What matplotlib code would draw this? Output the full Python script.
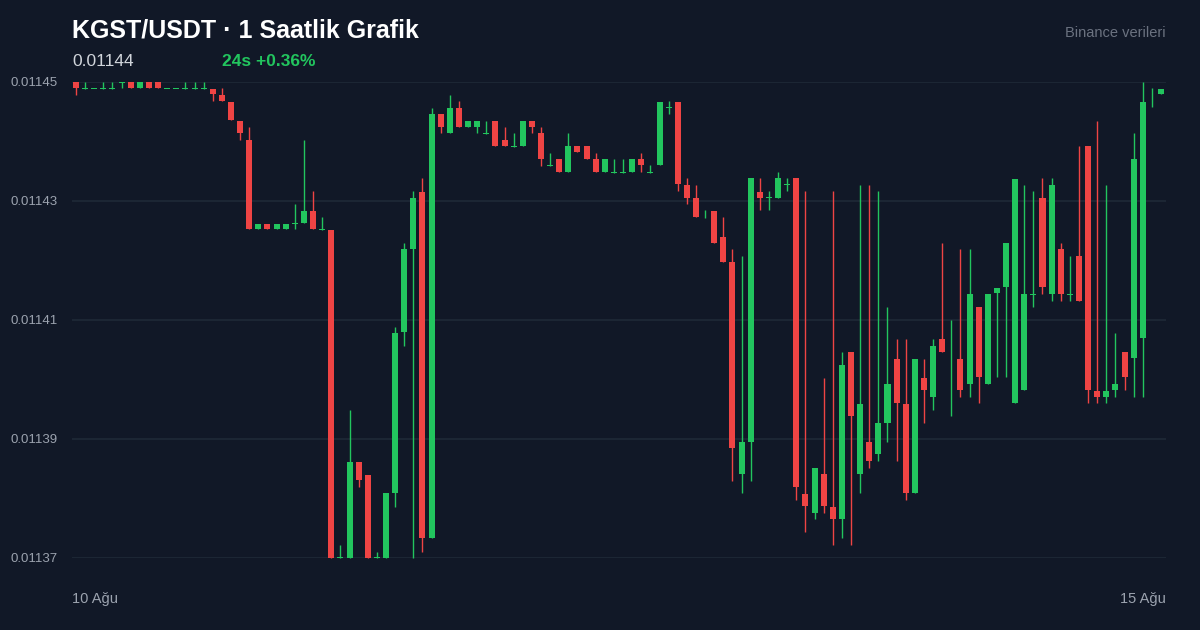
import matplotlib

matplotlib.use("Agg")
import matplotlib.pyplot as plt
import numpy as np

plt.rcParams["font.family"] = ["Liberation Sans", "DejaVu Sans"]

# hourly candles, price = 0.01095 + value * 1e-7
OPEN = [5000, 4988, 4988, 4988, 4988, 4998, 5000, 4990, 5000, 5000,
        4988, 4988, 4988, 4988, 4988, 4988, 4978, 4966, 4934, 4903,
        4753, 4761, 4753, 4753, 4761, 4763, 4783, 4751, 4751, 4200,
        4200, 4361, 4339, 4200, 4200, 4309, 4580, 4719, 4815, 4234,
        4946, 4914, 4956, 4924, 4924, 4913, 4934, 4903, 4891, 4892,
        4934, 4914, 4859, 4871, 4849, 4892, 4892, 4871, 4849, 4847,
        4847, 4849, 4871, 4847, 4861, 4956, 4966, 4827, 4805, 4771,
        4783, 4739, 4697, 4341, 4395, 4815, 4805, 4805, 4827, 4839,
        4308, 4276, 4341, 4286, 4266, 4546, 4341, 4395, 4375, 4427,
        4534, 4459, 4309, 4503, 4471, 4568, 4534, 4534, 4492, 4622,
        4492, 4645, 4655, 4460, 4482, 4642, 4805, 4644, 4719, 4642,
        4708, 4892, 4481, 4471, 4482, 4546, 4536, 4570, 4976, 4980]
HIGH = [5000, 5000, 4988, 5000, 5000, 5000, 5000, 5000, 5000, 5000,
        4988, 4988, 5000, 5000, 5000, 4988, 4990, 4966, 4934, 4924,
        4761, 4761, 4761, 4761, 4795, 4903, 4817, 4773, 4751, 4222,
        4449, 4361, 4339, 4210, 4309, 4588, 4729, 4817, 4839, 4956,
        4946, 4978, 4968, 4934, 4934, 4934, 4934, 4924, 4914, 4934,
        4934, 4924, 4881, 4871, 4914, 4892, 4892, 4881, 4871, 4871,
        4871, 4871, 4881, 4861, 4966, 4968, 4966, 4839, 4827, 4785,
        4783, 4773, 4719, 4708, 4839, 4839, 4817, 4849, 4839, 4839,
        4817, 4351, 4503, 4817, 4546, 4546, 4827, 4827, 4817, 4622,
        4568, 4568, 4534, 4534, 4568, 4729, 4600, 4719, 4719, 4622,
        4644, 4654, 4729, 4837, 4827, 4817, 4839, 4839, 4729, 4708,
        4892, 4892, 4934, 4827, 4578, 4546, 4914, 5000, 4990, 4988]
LOW = [4978, 4988, 4988, 4988, 4988, 4990, 4990, 4990, 4990, 4990,
       4988, 4988, 4988, 4988, 4988, 4968, 4968, 4936, 4903, 4753,
       4753, 4753, 4753, 4753, 4753, 4763, 4753, 4751, 4200, 4200,
       4200, 4319, 4200, 4200, 4200, 4286, 4556, 4200, 4210, 4234,
       4914, 4914, 4924, 4924, 4914, 4913, 4892, 4892, 4891, 4892,
       4914, 4859, 4859, 4849, 4849, 4882, 4871, 4849, 4849, 4847,
       4847, 4849, 4849, 4847, 4861, 4946, 4817, 4795, 4773, 4771,
       4729, 4697, 4329, 4309, 4329, 4785, 4785, 4805, 4817, 4297,
       4244, 4266, 4276, 4222, 4234, 4222, 4309, 4351, 4363, 4395,
       4363, 4297, 4309, 4427, 4449, 4546, 4439, 4471, 4471, 4460,
       4492, 4504, 4504, 4460, 4482, 4622, 4644, 4632, 4632, 4632,
       4632, 4460, 4460, 4460, 4471, 4482, 4471, 4471, 4958, 4980]
CLOSE = [4990, 4988, 4988, 4988, 4988, 5000, 4990, 5000, 4990, 4990,
         4988, 4988, 4988, 4988, 4988, 4980, 4968, 4936, 4914, 4753,
         4761, 4753, 4761, 4761, 4761, 4783, 4753, 4753, 4200, 4200,
         4361, 4331, 4200, 4200, 4309, 4578, 4719, 4805, 4234, 4946,
         4924, 4956, 4924, 4934, 4934, 4914, 4892, 4892, 4892, 4934,
         4924, 4871, 4859, 4849, 4892, 4882, 4871, 4849, 4871, 4847,
         4847, 4871, 4861, 4847, 4966, 4956, 4829, 4805, 4773, 4771,
         4729, 4697, 4385, 4395, 4839, 4805, 4805, 4839, 4827, 4319,
         4287, 4351, 4287, 4266, 4524, 4439, 4459, 4363, 4427, 4492,
         4460, 4309, 4534, 4482, 4556, 4546, 4534, 4482, 4644, 4504,
         4644, 4654, 4729, 4837, 4644, 4642, 4655, 4827, 4644, 4642,
         4632, 4482, 4471, 4481, 4492, 4504, 4871, 4966, 4976, 4988]

Y_TICKS = [0.01137, 0.01139, 0.01141, 0.01143, 0.01145]
X_LABELS = ("10 Ağu", "15 Ağu")
LAST_PRICE = "0.01144"
CHANGE = "24s +0.36%"

BG = "#111827"
GRID = "#1f2937"
UP = "#22c55e"
DOWN = "#ef4444"

o, h, l, c = (0.01095 + np.array(a) * 1e-7 for a in (OPEN, HIGH, LOW, CLOSE))
x = np.arange(len(o))
up = c >= o
col = np.where(up, UP, DOWN)

fig = plt.figure(figsize=(12, 6.3), dpi=100, facecolor=BG)
ax = fig.add_axes([0.06, 0.1143, 0.9117, 0.7556])
ax.set_facecolor(BG)

ax.vlines(x, l, h, colors=col, lw=1.0, clip_on=False, zorder=2)
body_lo = np.minimum(o, c)
body_h = np.maximum(np.abs(c - o), 1.2e-7)
ax.bar(x, body_h, bottom=body_lo, width=0.66, color=col, clip_on=False, zorder=3)

ax.set_xlim(-0.44, len(x) - 0.45)
ax.set_ylim(Y_TICKS[0], Y_TICKS[-1])
ax.set_yticks(Y_TICKS)
ax.set_yticklabels([f"{t:.5f}" for t in Y_TICKS])
ax.grid(axis="y", color=GRID, lw=1.2, zorder=0)
ax.set_xticks([])
ax.tick_params(axis="y", length=0, pad=10, colors="#9ca3af", labelsize=9.5)
for s in ax.spines.values():
    s.set_visible(False)

fig.text(72 / 1200, 1 - 30 / 630, "KGST/USDT · 1 Saatlik Grafik", color="white",
         fontsize=18, fontweight="bold", va="center")
fig.text(72 / 1200, 1 - 61 / 630, LAST_PRICE, color="#d1d5db", fontsize=12.5, va="center")
fig.text(222 / 1200, 1 - 61 / 630, CHANGE, color=UP, fontsize=12.5,
         fontweight="bold", va="center")
fig.text(1166 / 1200, 1 - 33 / 630, "Binance verileri", color="#6b7280",
         fontsize=10.5, ha="right", va="center")
fig.text(72 / 1200, 1 - 599 / 630, X_LABELS[0], color="#9ca3af", fontsize=10.5, va="center")
fig.text(1166 / 1200, 1 - 599 / 630, X_LABELS[1], color="#9ca3af", fontsize=10.5,
         ha="right", va="center")

fig.savefig("out.png", dpi=100, facecolor=BG)
